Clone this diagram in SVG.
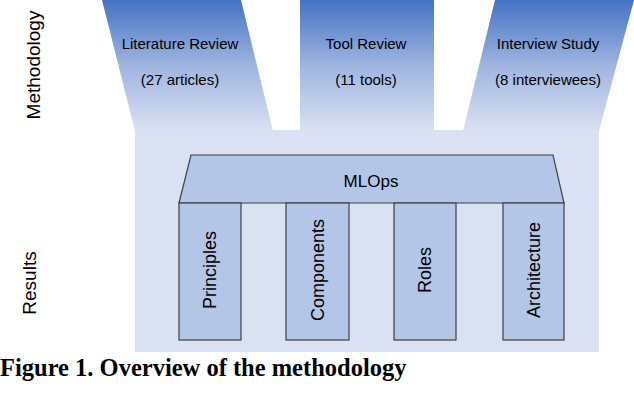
<svg xmlns="http://www.w3.org/2000/svg" width="634" height="414" viewBox="0 0 634 414">
<style>
.t{font-family:"Liberation Sans",Arial,sans-serif;font-size:15px;fill:#000;text-anchor:middle}
.v{font-size:18px}
.p{fill:#b4c6e7;stroke:#404040;stroke-width:1.2}
</style>
<defs>
<linearGradient id="g" x1="0" y1="0" x2="0" y2="1">
<stop offset="0" stop-color="#4472c4"/><stop offset="0.5" stop-color="#9fb5e0"/><stop offset="1" stop-color="#d9e1f2"/>
</linearGradient>
</defs>
<rect width="634" height="414" fill="#fff"/>
<g id="background"><rect x="135" y="130" width="464" height="222" fill="#d9e1f2"/></g>
<g id="literature"><polygon points="102,0 241,0 273,131 135,131" fill="url(#g)"/>
<text class="t" x="180" y="49">Literature Review</text><text class="t" x="180" y="85">(27 articles)</text></g>
<g id="tool"><rect x="300" y="0" width="134" height="131" fill="url(#g)"/>
<text class="t" x="366" y="49">Tool Review</text><text class="t" x="366" y="85">(11 tools)</text></g>
<g id="interview"><polygon points="495,0 634,0 599,131 463,131" fill="url(#g)"/>
<text class="t" x="548" y="49">Interview Study</text><text class="t" x="548" y="85">(8 interviewees)</text></g>
<text class="t" transform="translate(34,65) rotate(-90)" dy="6" style="font-size:19px">Methodology</text>
<text class="t" transform="translate(30,283) rotate(-90)" dy="6" style="font-size:19px">Results</text>
<g id="mlops"><polygon class="p" points="191,155 553,155 564,203 179,203"/>
<text class="t" x="371" y="187" style="font-size:17px">MLOps</text></g>
<g id="principles"><rect class="p" x="179" y="203" width="62" height="137"/><text class="t v" transform="translate(216,270) rotate(-90)">Principles</text></g>
<g id="components"><rect class="p" x="286" y="203" width="63" height="137"/><text class="t v" transform="translate(324,270) rotate(-90)">Components</text></g>
<g id="roles"><rect class="p" x="394" y="203" width="62" height="137"/><text class="t v" transform="translate(431,270) rotate(-90)">Roles</text></g>
<g id="architecture"><rect class="p" x="503" y="203" width="61" height="137"/><text class="t v" transform="translate(540,270) rotate(-90)">Architecture</text></g>
<text x="0" y="376" style="font-family:'Liberation Serif','Times New Roman',serif;font-weight:bold;font-size:24.5px">Figure 1. Overview of the methodology</text>
</svg>
